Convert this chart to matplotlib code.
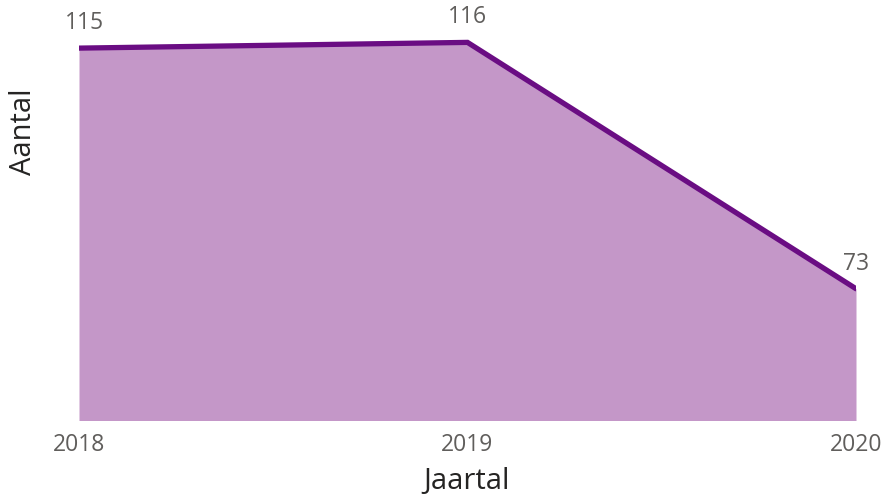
import matplotlib
matplotlib.use("Agg")
import matplotlib.pyplot as plt

years = ["2018", "2019", "2020"]
counts = [115, 116, 73]

W, H = 887, 497
fig = plt.figure(figsize=(W / 100, H / 100), dpi=100)
plt.rcParams["font.family"] = ["Open Sans", "DejaVu Sans"]

left, right, bottom, top = 79, 856, 420.5, 0
ax = fig.add_axes([left / W, 1 - bottom / H, (right - left) / W, (bottom - top) / H])

x = list(range(len(years)))
ymin = 50
ax.fill_between(x, counts, ymin, color="#C497C8", linewidth=0)
ax.plot(x, counts, color="#6A0D83", linewidth=3.8, solid_capstyle="round",
        solid_joinstyle="miter")

ax.set_xlim(0, len(years) - 1)
ax.set_ylim(ymin, 123.4)
for s in ax.spines.values():
    s.set_visible(False)
ax.set_yticks([])
ax.set_xticks(x)
ax.set_xticklabels(years, fontsize=16.5, color="#605E5C")
ax.tick_params(axis="x", length=0, pad=9)

offsets = [(4, 18), (0, 18), (0, 18)]
for xi, v, (dx, dy) in zip(x, counts, offsets):
    ax.annotate(str(v), (xi, v), xytext=(dx, dy), textcoords="offset points",
                ha="center", va="center", fontsize=16.5, color="#605E5C",
                annotation_clip=False)

fig.text(24 / W, 1 - 132 / H, "Aantal", rotation=90, ha="center", va="center",
         fontsize=21, color="#252423")
fig.text(467 / W, 1 - 481 / H, "Jaartal", ha="center", va="center",
         fontsize=21, color="#252423")

fig.savefig("out.png", dpi=100)
